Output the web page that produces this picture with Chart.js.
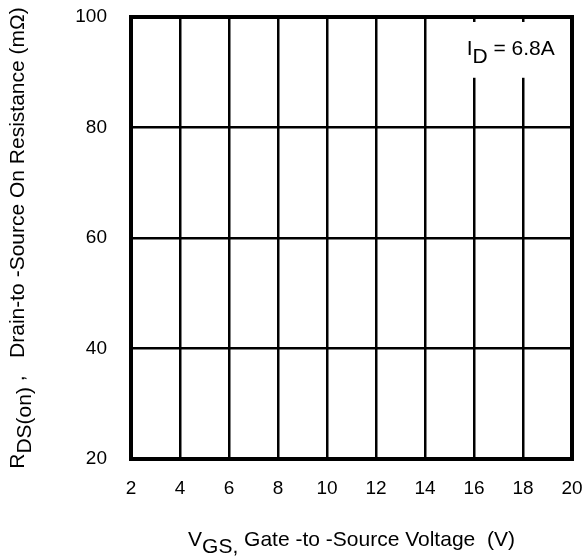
<!DOCTYPE html>
<html>
<head>
<meta charset="utf-8">
<script src="https://cdn.jsdelivr.net/npm/chart.js@4"></script>
<style>
  html, body { margin: 0; padding: 0; background: #fff; }
  #wrap { width: 586px; height: 558px; }
</style>
</head>
<body>
<div id="wrap"><canvas id="c" width="586" height="558"></canvas></div>
<script>
// Axis ticks
const vgsTicks = [2, 4, 6, 8, 10, 12, 14, 16, 18, 20];
const rdsTicks = [20, 40, 60, 80, 100];
// Measured curve (no points plotted on this sheet)
const curveVgs = [];
const curveRds = [];
// Test condition label
const condLabel = { main: 'I', sub: 'D', rest: ' = 6.8A' };

const FONT = '"Liberation Sans", Arial, Helvetica, sans-serif';

// draws rich text pieces: [{t, dy}] starting at x, baseline y
function drawPieces(ctx, pieces, x, y, size) {
  ctx.font = size + 'px ' + FONT;
  let cx = x;
  for (const p of pieces) {
    ctx.fillText(p.t, cx, y + (p.dy || 0));
    cx += ctx.measureText(p.t).width;
  }
  return cx - x;
}
function piecesWidth(ctx, pieces, size) {
  ctx.font = size + 'px ' + FONT;
  return pieces.reduce((s, p) => s + ctx.measureText(p.t).width, 0);
}

const decor = {
  id: 'decor',
  beforeDatasetsDraw(chart) {
    const { ctx, scales: { x, y } } = chart;
    ctx.save();
    // clear a box behind the condition label
    const bx0 = x.getPixelForValue(15.2), bx1 = x.getPixelForValue(19.6);
    const by0 = y.getPixelForValue(99.1), by1 = y.getPixelForValue(89.0);
    ctx.fillStyle = '#fff';
    ctx.fillRect(bx0, by0, bx1 - bx0, by1 - by0);
    ctx.restore();
  },
  afterDraw(chart) {
    const { ctx, chartArea: a, scales: { x, y } } = chart;
    ctx.save();
    // frame
    ctx.strokeStyle = '#000';
    ctx.lineWidth = 4;
    ctx.strokeRect(a.left, a.top, a.right - a.left, a.bottom - a.top);

    ctx.fillStyle = '#000';
    ctx.textBaseline = 'alphabetic';
    ctx.textAlign = 'left';

    // condition label
    drawPieces(ctx, [
      { t: condLabel.main },
      { t: condLabel.sub, dy: 8 },
      { t: condLabel.rest }
    ], x.getPixelForValue(15.7), y.getPixelForValue(93.1), 21);

    // x-axis title
    const xt = [
      { t: 'V' },
      { t: 'GS,', dy: 7 },
      { t: ' Gate -to -Source Voltage  (V)' }
    ];
    const xw = piecesWidth(ctx, xt, 21);
    drawPieces(ctx, xt, (a.left + a.right) / 2 - xw / 2, 546, 21);

    // y-axis title (rotated)
    const yt = [
      { t: 'R' },
      { t: 'DS(on)', dy: 7 },
      { t: ' ,   Drain-to -Source On Resistance (m\u03A9)' }
    ];
    const yw = piecesWidth(ctx, yt, 21);
    ctx.translate(24, (a.top + a.bottom) / 2);
    ctx.rotate(-Math.PI / 2);
    drawPieces(ctx, yt, -yw / 2, 0, 21);
    ctx.restore();
  }
};

new Chart(document.getElementById('c'), {
  type: 'scatter',
  data: {
    datasets: [{
      data: curveVgs.map((v, i) => ({ x: v, y: curveRds[i] })),
      showLine: true,
      borderColor: '#000',
      borderWidth: 2,
      pointRadius: 0
    }]
  },
  options: {
    responsive: false,
    animation: false,
    devicePixelRatio: 1,
    layout: { padding: { left: 0, right: 14, top: 17, bottom: 0 } },
    plugins: { legend: { display: false }, tooltip: { enabled: false } },
    scales: {
      x: {
        type: 'linear',
        min: vgsTicks[0],
        max: vgsTicks[vgsTicks.length - 1],
        afterBuildTicks: s => { s.ticks = vgsTicks.map(v => ({ value: v })); },
        afterFit: s => { s.height = 99; s.paddingLeft = 0; s.paddingRight = 0; },
        ticks: {
          color: '#000',
          font: { family: FONT, size: 19 },
          padding: 18,
          maxRotation: 0,
          autoSkip: false,
          callback: v => String(v)
        },
        grid: { color: '#000', lineWidth: 2.5, drawTicks: false },
        border: { display: false }
      },
      y: {
        type: 'linear',
        min: rdsTicks[0],
        max: rdsTicks[rdsTicks.length - 1],
        afterBuildTicks: s => { s.ticks = rdsTicks.map(v => ({ value: v })); },
        afterFit: s => { s.width = 131; s.paddingTop = 0; s.paddingBottom = 0; },
        ticks: {
          color: '#000',
          font: { family: FONT, size: 19 },
          padding: 24,
          callback: v => String(v)
        },
        grid: { color: '#000', lineWidth: 2.5, drawTicks: false },
        border: { display: false }
      }
    }
  },
  plugins: [decor]
});
</script>
</body>
</html>
